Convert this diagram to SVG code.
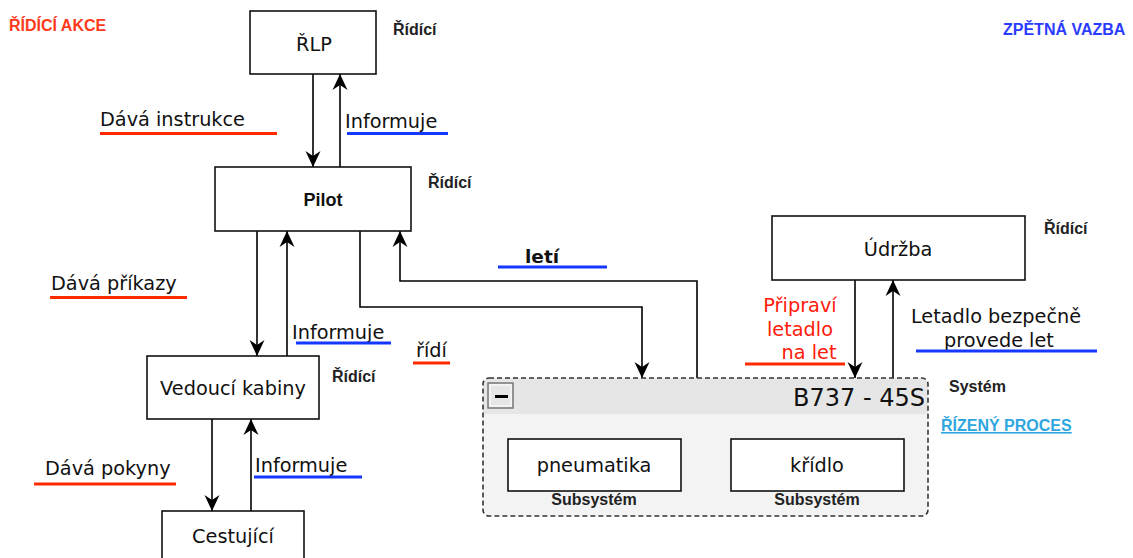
<svg xmlns="http://www.w3.org/2000/svg" width="1133" height="558" viewBox="0 0 1133 558">
  <defs>
    <marker id="arr" markerUnits="userSpaceOnUse" markerWidth="20" markerHeight="20" viewBox="-18 -10 20 20" refX="0" refY="0" orient="auto">
      <path d="M0,0 L-16,-7.5 L-11,0 L-16,7.5 Z" fill="#000"/>
    </marker>
    <style>
      .box { fill: #fff; stroke: #111; stroke-width: 1.6; }
      .lbl { font-family: "DejaVu Sans", sans-serif; font-size: 19.3px; fill: #111; }
      .tag { font-family: "Liberation Sans", Arial, sans-serif; font-size: 16px; font-weight: bold; fill: #222; }
      .conn { fill: none; stroke: #000; stroke-width: 1.6; marker-end: url(#arr); }
      .ured { stroke: #ff2a00; stroke-width: 3.2; }
      .ublue { stroke: #1438ff; stroke-width: 3.2; }
    </style>
  </defs>
  <rect width="1133" height="558" fill="#fff"/>

  <!-- Legend texts -->
  <text x="9" y="31" font-family="Liberation Sans, Arial, sans-serif" font-size="16" font-weight="bold" fill="#ff3a1a">ŘÍDÍCÍ AKCE</text>
  <text x="1003" y="35" font-family="Liberation Sans, Arial, sans-serif" font-size="16" font-weight="bold" fill="#2a3cff">ZPĚTNÁ VAZBA</text>
  <text x="941" y="431" font-family="Liberation Sans, Arial, sans-serif" font-size="16" font-weight="bold" fill="#2ea6e0" text-decoration="underline">ŘÍZENÝ PROCES</text>

  <!-- Connectors -->
  <g id="connectors">
    <path class="conn" d="M313,74 V167"/>
    <path class="conn" d="M340,167 V74"/>
    <path class="conn" d="M257,231 V356"/>
    <path class="conn" d="M287,356 V231"/>
    <path class="conn" d="M212,419 V511"/>
    <path class="conn" d="M251,511 V419"/>
    <path class="conn" d="M360,231 V307 H642 V378"/>
    <path class="conn" d="M697,378 V281 H400 V231"/>
    <path class="conn" d="M855,280 V378"/>
    <path class="conn" d="M893,378 V280"/>
  </g>

  <!-- Connector labels -->
  <g id="labels">
    <text class="lbl" x="100" y="126">Dává instrukce</text>
    <line class="ured" x1="100" y1="133.5" x2="277" y2="133.5"/>
    <text class="lbl" x="345" y="128">Informuje</text>
    <line class="ublue" x1="347" y1="133.5" x2="448" y2="133.5"/>

    <text class="lbl" x="51" y="290">Dává příkazy</text>
    <line class="ured" x1="50" y1="297.5" x2="187" y2="297.5"/>
    <text class="lbl" x="292" y="339">Informuje</text>
    <line class="ublue" x1="296" y1="343" x2="391" y2="343"/>

    <text class="lbl" x="416" y="357">řídí</text>
    <line class="ured" x1="413" y1="363" x2="450" y2="363"/>

    <text class="lbl" x="45" y="475">Dává pokyny</text>
    <line class="ured" x1="34" y1="484" x2="176" y2="484"/>
    <text class="lbl" x="255" y="472">Informuje</text>
    <line class="ublue" x1="254" y1="477" x2="362" y2="477"/>

    <text x="525" y="263" font-family="DejaVu Sans, sans-serif" font-size="18.5" font-weight="bold" fill="#111">letí</text>
    <line class="ublue" x1="498" y1="267" x2="607" y2="267"/>

    <text class="lbl" text-anchor="middle" style="fill:#ff1a0a"><tspan x="800" y="312">Připraví</tspan><tspan x="800" y="336">letadlo</tspan><tspan x="809" y="359">na let</tspan></text>
    <line class="ured" x1="745" y1="364" x2="845" y2="364"/>

    <text class="lbl" text-anchor="middle"><tspan x="996" y="323">Letadlo bezpečně</tspan><tspan x="999" y="347">provede let</tspan></text>
    <line class="ublue" x1="916" y1="351" x2="1097" y2="351"/>
  </g>

  <!-- Nodes -->
  <g id="node-rlp">
    <rect class="box" x="250" y="11" width="126" height="63"/>
    <text class="lbl" x="314" y="51" text-anchor="middle">ŘLP</text>
    <text class="tag" x="393" y="35">Řídící</text>
  </g>

  <g id="node-pilot">
    <rect class="box" x="215" y="167" width="196" height="64"/>
    <text x="323" y="206" text-anchor="middle" font-family="Liberation Sans, Arial, sans-serif" font-size="18" font-weight="bold" fill="#111">Pilot</text>
    <text class="tag" x="428" y="188">Řídící</text>
  </g>

  <g id="node-vedouci">
    <rect class="box" x="147" y="356" width="172" height="63"/>
    <text class="lbl" x="233" y="395" text-anchor="middle">Vedoucí kabiny</text>
    <text class="tag" x="332" y="382">Řídící</text>
  </g>

  <g id="node-cestujici">
    <rect class="box" x="162" y="511" width="142" height="60"/>
    <text class="lbl" x="233" y="543" text-anchor="middle">Cestující</text>
  </g>

  <g id="node-udrzba">
    <rect class="box" x="772" y="216" width="253" height="64"/>
    <text class="lbl" x="898" y="256" text-anchor="middle">Údržba</text>
    <text class="tag" x="1044" y="234">Řídící</text>
  </g>

  <g id="node-b737">
    <rect x="483" y="378" width="445" height="138" rx="6" ry="6" fill="#f3f3f3"/>
    <path d="M483,414 V384 A6,6 0 0 1 489,378 H922 A6,6 0 0 1 928,384 V414 Z" fill="#e6e6e6"/>
    <rect x="483" y="378" width="445" height="138" rx="6" ry="6" fill="none" stroke="#333" stroke-width="1.6" stroke-dasharray="5 3"/>
    <rect x="488" y="383" width="25" height="25" fill="#e6e6e6" stroke="#777" stroke-width="1.5"/>
    <rect x="490" y="385" width="21" height="21" fill="none" stroke="#fff" stroke-width="1"/>
    <rect x="495" y="395" width="13" height="3" fill="#000"/>
    <text x="925" y="406" text-anchor="end" font-family="DejaVu Sans, sans-serif" font-size="24" fill="#111">B737 - 45S</text>
    <text class="tag" x="949" y="392">Systém</text>
  </g>

  <g id="node-pneumatika">
    <rect class="box" x="508" y="439" width="173" height="52"/>
    <text class="lbl" x="594" y="472" text-anchor="middle">pneumatika</text>
    <text class="tag" x="594" y="505" text-anchor="middle">Subsystém</text>
  </g>

  <g id="node-kridlo">
    <rect class="box" x="731" y="439" width="173" height="52"/>
    <text class="lbl" x="817" y="472" text-anchor="middle">křídlo</text>
    <text class="tag" x="817" y="505" text-anchor="middle">Subsystém</text>
  </g>
</svg>
